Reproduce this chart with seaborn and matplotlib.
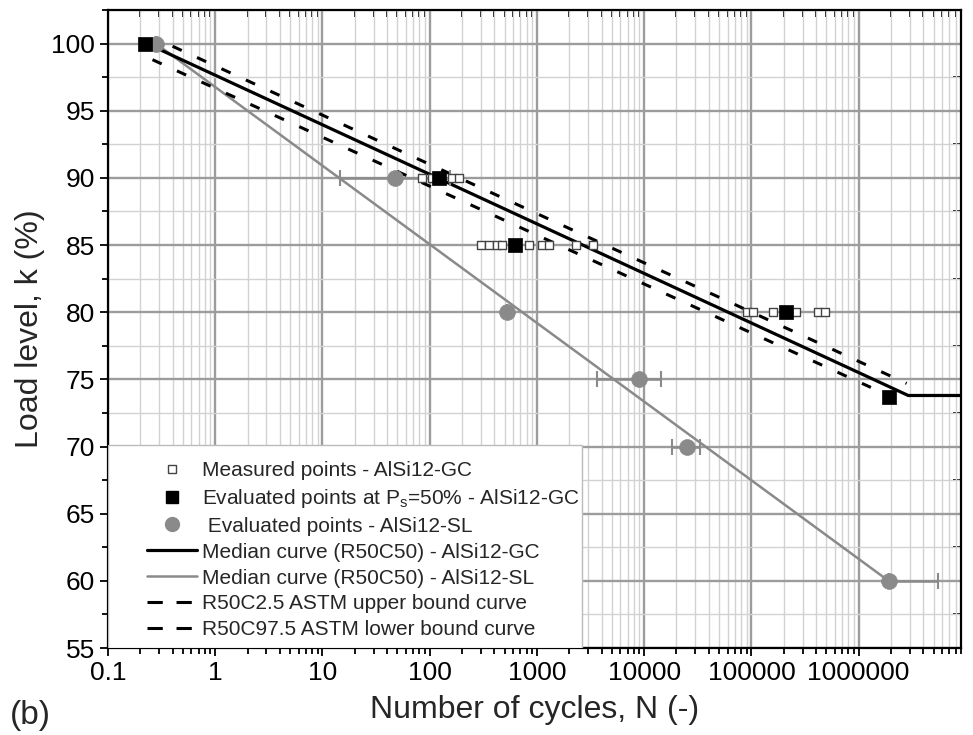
import numpy as np
import matplotlib
matplotlib.use("Agg")
import matplotlib.pyplot as plt
import seaborn as sns
from matplotlib.lines import Line2D
from matplotlib.patches import Rectangle
from matplotlib.ticker import LogLocator, MultipleLocator, NullFormatter

# =========================
# DATA
# =========================
# measured points - AlSi12-GC
gc_meas_n = [0.22, 85, 105, 162, 187,
             300, 360, 420, 470, 840, 1110, 1300, 2300, 3300,
             90000, 104000, 160000, 260000, 420000, 490000, 1900000]
gc_meas_k = [100, 90, 90, 90, 90,
             85, 85, 85, 85, 85, 85, 85, 85, 85,
             80, 80, 80, 80, 80, 80, 73.7]

# evaluated points at Ps=50% - AlSi12-GC
gc_eval_n = [0.22, 123, 630, 210000, 1900000]
gc_eval_k = [100, 90, 85, 80, 73.7]

# evaluated points - AlSi12-SL (with scatter band)
sl_eval_n = [0.28, 47, 530, 8900, 25000, 1900000]
sl_eval_k = [100, 90, 80, 75, 70, 60]
sl_err_lo = [0.28, 14.5, 530, 3600, 18000, 1900000]
sl_err_hi = [0.28, 155, 530, 14500, 33000, 5500000]

# median curves
gc_med_n = [0.23, 2900000, 9000000]
gc_med_k = [100, 73.8, 73.8]
sl_med_n = [0.28, 1900000]
sl_med_k = [100, 60]

# ASTM bound curves
upper_n = [0.4, 2800000]
upper_k = [99.8, 74.7]
lower_n = [0.26, 1300000]
lower_k = [98.8, 74.4]

xticks = [0.1, 1, 10, 100, 1000, 10000, 100000, 1000000]
xtick_labels = ["0.1", "1", "10", "100", "1000", "10000", "100000", "1000000"]
yticks = [55, 60, 65, 70, 75, 80, 85, 90, 95, 100]

legend_labels = [
    "Measured points - AlSi12-GC",
    "Evaluated points at P$_\\mathregular{s}$=50% - AlSi12-GC",
    " Evaluated points - AlSi12-SL",
    "Median curve (R50C50) - AlSi12-GC",
    "Median curve (R50C50) - AlSi12-SL",
    "R50C2.5 ASTM upper bound curve",
    "R50C97.5 ASTM lower bound curve",
]

# =========================
# STYLE
# =========================
sns.set_theme(style="white")
plt.rcParams['font.family'] = ['Liberation Sans', 'DejaVu Sans']
plt.rcParams['mathtext.default'] = 'regular'

GRAY = '#8a8a8a'
DASH = (0, (3.3, 5.5))

fig = plt.figure(figsize=(9.73, 7.35), dpi=100)
ax = fig.add_axes([108 / 973, 1 - 648 / 735, (961 - 108) / 973, (648 - 10) / 735])
ax.set_xscale('log')
ax.set_xlim(0.1, 9e6)
ax.set_ylim(55, 102.5)

# =========================
# CURVES
# =========================
sns.lineplot(x=sl_med_n, y=sl_med_k, ax=ax, color=GRAY, lw=1.8, estimator=None, sort=False, zorder=2)
sns.lineplot(x=gc_med_n, y=gc_med_k, ax=ax, color='black', lw=2.3, estimator=None, sort=False, zorder=3)
sns.lineplot(x=upper_n, y=upper_k, ax=ax, color='black', lw=2.2, linestyle=DASH, estimator=None, sort=False, zorder=3)
sns.lineplot(x=lower_n, y=lower_k, ax=ax, color='black', lw=2.2, linestyle=DASH, estimator=None, sort=False, zorder=3)

# scatter band of the SL points
sl_n = np.array(sl_eval_n)
err = np.array([sl_n - np.array(sl_err_lo), np.array(sl_err_hi) - sl_n])
ax.errorbar(sl_eval_n, sl_eval_k, xerr=err, fmt='none', ecolor=GRAY, elinewidth=1.8,
            capsize=6, capthick=1.5, zorder=3)

# =========================
# POINTS
# =========================
sns.scatterplot(x=gc_meas_n, y=gc_meas_k, ax=ax, marker='s', s=34, color='white',
                edgecolor='#444444', linewidth=1.0, zorder=4)
sns.scatterplot(x=sl_eval_n, y=sl_eval_k, ax=ax, marker='o', s=130, color=GRAY,
                edgecolor=GRAY, linewidth=0.5, zorder=5)
sns.scatterplot(x=gc_eval_n, y=gc_eval_k, ax=ax, marker='s', s=95, color='black',
                edgecolor='black', linewidth=0.5, zorder=6)

# =========================
# AXES, TICKS, GRID
# =========================
ax.set_axisbelow(True)
ax.set_xticks(xticks, labels=xtick_labels)
ax.xaxis.set_minor_locator(LogLocator(base=10, subs=np.arange(2, 10), numticks=30))
ax.xaxis.set_minor_formatter(NullFormatter())
ax.set_yticks(yticks)
ax.yaxis.set_minor_locator(MultipleLocator(2.5))
ax.grid(which='major', color='#9c9c9c', lw=1.7)
ax.grid(which='minor', color='#d2d2d2', lw=1.0)
ax.tick_params(which='both', direction='out', bottom=True, left=True, colors='black',
               labelsize=19, width=1.3)
ax.tick_params(which='major', length=6)
ax.tick_params(which='minor', length=4)
for sp in ax.spines.values():
    sp.set_color('black')
    sp.set_linewidth(1.6)

top = ax.secondary_xaxis('top')
top.set_xticks(xticks)
top.xaxis.set_minor_locator(LogLocator(base=10, subs=np.arange(2, 10), numticks=30))
top.xaxis.set_major_formatter(NullFormatter())
top.xaxis.set_minor_formatter(NullFormatter())
top.tick_params(which='both', direction='in', width=1.3, colors='black')
top.tick_params(which='major', length=7)
top.tick_params(which='minor', length=5)

right = ax.secondary_yaxis('right')
right.set_yticks(yticks)
right.yaxis.set_minor_locator(MultipleLocator(2.5))
right.yaxis.set_major_formatter(NullFormatter())
right.tick_params(which='both', direction='in', width=1.3, colors='black', length=6)

ax.set_xlabel('Number of cycles, N (-)', fontsize=23)
ax.set_ylabel('Load level, k (%)', fontsize=23)
ax.xaxis.set_label_coords(0.5, -0.074)
ax.yaxis.set_label_coords(-0.074, 0.5)
fig.text(10 / 973, 1 - 724 / 735, '(b)', fontsize=24, va='baseline', ha='left')

# =========================
# LEGEND
# =========================
ax.add_patch(Rectangle((0, 0), (582 - 108) / 853, (648 - 445) / 638, transform=ax.transAxes,
                       facecolor='white', edgecolor='#bbbbbb', lw=1.0, zorder=7))
handles = [
    Line2D([], [], ls='none', marker='s', ms=5.5, mfc='white', mec='#444444', mew=1.0),
    Line2D([], [], ls='none', marker='s', ms=9, mfc='black', mec='black'),
    Line2D([], [], ls='none', marker='o', ms=10, mfc=GRAY, mec=GRAY),
    Line2D([], [], color='black', lw=2.3),
    Line2D([], [], color=GRAY, lw=1.8),
    Line2D([], [], color='black', lw=2.2, ls=(0, (5, 4.5))),
    Line2D([], [], color='black', lw=2.2, ls=(0, (5, 4.5))),
]
leg = ax.legend(handles, legend_labels, loc='upper left',
                bbox_to_anchor=((147 - 108) / 853, (648 - 461) / 638),
                frameon=False, fontsize=15, handlelength=2.4, handletextpad=0.25,
                labelspacing=0.33, borderpad=0, borderaxespad=0)
leg.set_zorder(8)

plt.savefig('out.png', dpi=100)
print("Saved: out.png")
